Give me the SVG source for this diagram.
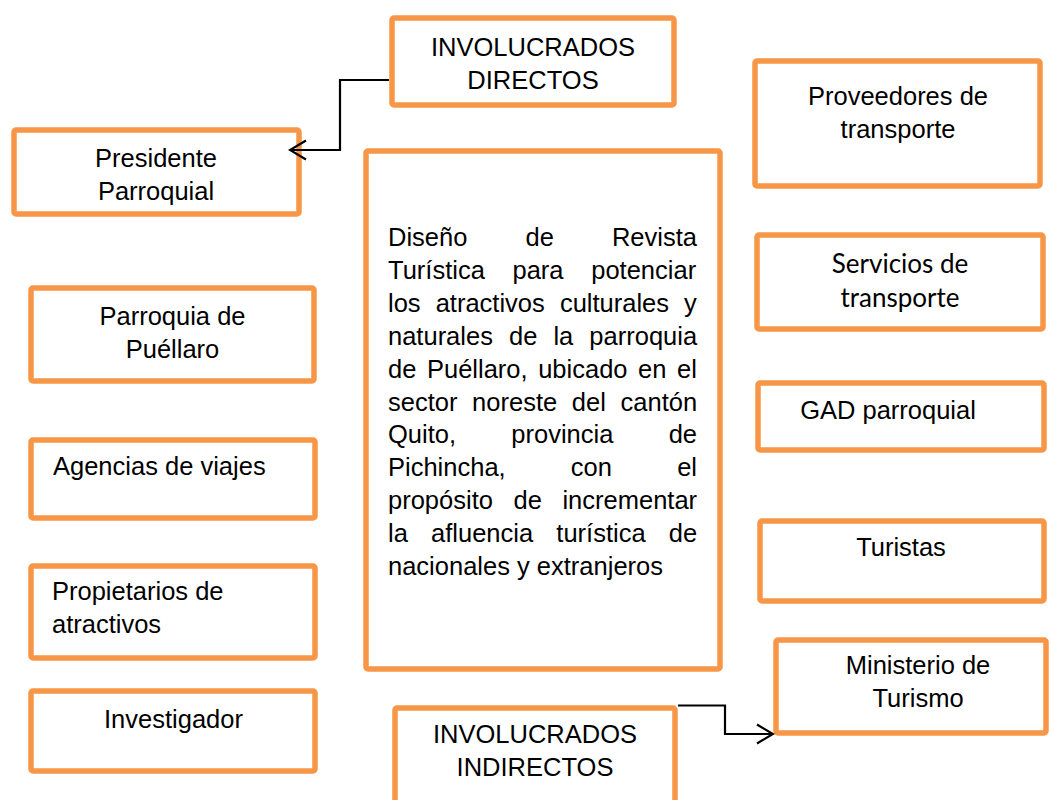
<svg xmlns="http://www.w3.org/2000/svg" width="1051" height="800" viewBox="0 0 1051 800">
<style>
.box{fill:#FFFFFF;stroke:#F79646;stroke-width:5.5;}
.t{font-family:"Liberation Sans",Arial,sans-serif;font-size:25.5px;fill:#000000;}
.c{text-anchor:middle;}
.cal{font-family:Lato,"Open Sans",sans-serif;font-size:26px;fill:#000000;text-anchor:middle;}
.conn{fill:none;stroke:#000000;stroke-width:2.2;}
</style>
<defs>
<marker id="arr" viewBox="0 0 20 22" refX="18" refY="11" markerWidth="20" markerHeight="22" markerUnits="userSpaceOnUse" orient="auto">
<path d="M2,1.5 L18,11 L2,20.5" fill="none" stroke="#000000" stroke-width="2.2"/>
</marker>
</defs>
<rect width="1051" height="800" fill="#FFFFFF"/>
<g id="n-directos">
<rect class="box" x="392" y="18" width="282" height="87" rx="2"/>
<text class="t c" x="533" y="56">INVOLUCRADOS</text>
<text class="t c" x="533" y="89">DIRECTOS</text>
</g>
<g id="n-presidente">
<rect class="box" x="14" y="130" width="285" height="84" rx="2"/>
<text class="t c" x="156" y="167">Presidente</text>
<text class="t c" x="156" y="200">Parroquial</text>
</g>
<g id="n-centro">
<rect class="box" x="366" y="151" width="354" height="518" rx="2"/>
<text class="t" x="388" y="246" word-spacing="51">Diseño de Revista</text>
<text class="t" x="388" y="278.9" word-spacing="20.6">Turística para potenciar</text>
<text class="t" x="388" y="311.8" word-spacing="8">los atractivos culturales y</text>
<text class="t" x="388" y="344.7" word-spacing="9">naturales de la parroquia</text>
<text class="t" x="388" y="377.6" word-spacing="3.5">de Puéllaro, ubicado en el</text>
<text class="t" x="388" y="410.5" word-spacing="7.6">sector noreste del cantón</text>
<text class="t" x="388" y="443.4" word-spacing="48.2">Quito, provincia de</text>
<text class="t" x="388" y="476.3" word-spacing="58.1">Pichincha, con el</text>
<text class="t" x="388" y="509.2" word-spacing="13.5">propósito de incrementar</text>
<text class="t" x="388" y="542.1" word-spacing="16.1">la afluencia turística de</text>
<text class="t" x="388" y="575">nacionales y extranjeros</text>
</g>
<g id="n-proveedores">
<rect class="box" x="755" y="61" width="285" height="125" rx="2"/>
<text class="t c" x="898" y="105">Proveedores de</text>
<text class="t c" x="898" y="138">transporte</text>
</g>
<g id="n-servicios">
<rect class="box" x="757" y="235" width="286" height="94" rx="2"/>
<text class="cal" x="900" y="273">Servicios de</text>
<text class="cal" x="900" y="307">transporte</text>
</g>
<g id="n-gad">
<rect class="box" x="758" y="383" width="286" height="67" rx="2"/>
<text class="t c" x="888" y="419">GAD parroquial</text>
</g>
<g id="n-turistas">
<rect class="box" x="760" y="521" width="284" height="80" rx="2"/>
<text class="t c" x="901" y="556">Turistas</text>
</g>
<g id="n-ministerio">
<rect class="box" x="776" y="640" width="270" height="93" rx="2"/>
<text class="t c" x="918" y="674">Ministerio de</text>
<text class="t c" x="918" y="707">Turismo</text>
</g>
<g id="n-parroquia">
<rect class="box" x="31" y="288" width="283" height="93" rx="2"/>
<text class="t c" x="172.5" y="325">Parroquia de</text>
<text class="t c" x="172.5" y="358">Puéllaro</text>
</g>
<g id="n-agencias">
<rect class="box" x="31" y="440" width="284" height="78" rx="2"/>
<text class="t" x="53" y="475">Agencias de viajes</text>
</g>
<g id="n-propietarios">
<rect class="box" x="31" y="566" width="284" height="92" rx="2"/>
<text class="t" x="52" y="600">Propietarios de</text>
<text class="t" x="52" y="633">atractivos</text>
</g>
<g id="n-investigador">
<rect class="box" x="31" y="691" width="284" height="80" rx="2"/>
<text class="t c" x="173.5" y="728">Investigador</text>
</g>
<g id="n-indirectos">
<rect class="box" x="395" y="708" width="280" height="100" rx="2"/>
<text class="t c" x="535" y="743">INVOLUCRADOS</text>
<text class="t c" x="535" y="776">INDIRECTOS</text>
</g>
<g id="connectors">
<path class="conn" d="M389,80 H340 V150 H290" marker-end="url(#arr)"/>
<path class="conn" d="M678,705.5 H725 V734 H773" marker-end="url(#arr)"/>
</g>
</svg>
